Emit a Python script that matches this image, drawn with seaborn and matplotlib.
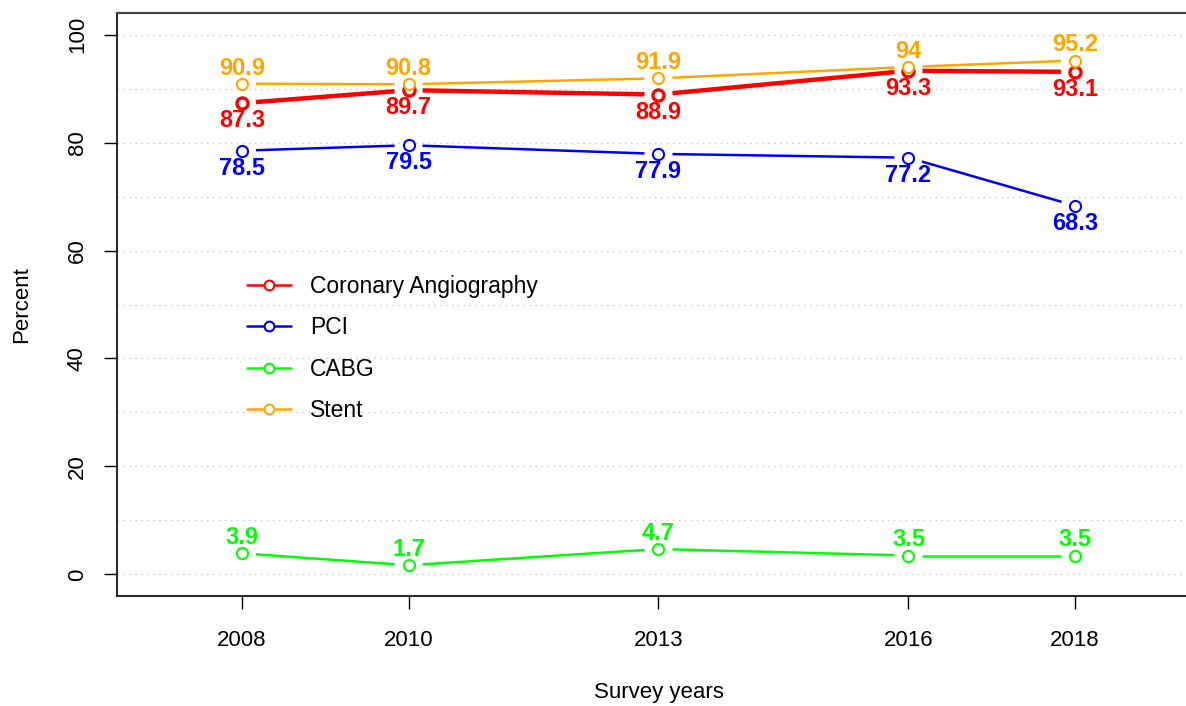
import matplotlib
matplotlib.use("Agg")
import matplotlib.pyplot as plt
from matplotlib.lines import Line2D
import numpy as np
import pandas as pd
import seaborn as sns

# Survey data (percent)
years = [2008, 2010, 2013, 2016, 2018]
angiography = [87.3, 89.7, 88.9, 93.3, 93.1]
pci = [78.5, 79.5, 77.9, 77.2, 68.3]
cabg = [3.9, 1.7, 4.7, 3.5, 3.5]
stent = [90.9, 90.8, 91.9, 94.0, 95.2]

series_names = ["Coronary Angiography", "PCI", "CABG", "Stent"]
series_values = [angiography, pci, cabg, stent]
colors = ["#FF0000", "#0000FF", "#00FF00", "#FFA500"]
label_below = [True, True, False, False]
line_widths = [3.2, 1.8, 1.8, 1.8]
edge_widths = [2.4, 1.5, 1.5, 1.5]

sns.set_style("ticks")
plt.rcParams["font.family"] = ["Liberation Sans", "DejaVu Sans"]
plt.rcParams["text.color"] = "black"
plt.rcParams["axes.labelcolor"] = "black"

df = pd.DataFrame({
    "year": years * len(series_names),
    "value": sum(series_values, []),
    "series": np.repeat(series_names, len(years)),
})

W, H = 1186, 706
fig = plt.figure(figsize=(W / 100, H / 100), dpi=100)
ax = fig.add_axes([117 / W, 1 - 596 / H, 1083 / W, 583 / H])
ax.set_xlim(2006.5, 2019.5)
ax.set_ylim(-4, 104)

# dotted horizontal grid every 10
ax.set_yticks(np.arange(0, 101, 10), minor=True)
ax.set_yticks(np.arange(0, 101, 20))
ax.set_xticks(years)
ax.yaxis.grid(True, which="both", color="#c8c8c8", linestyle=(0, (1, 3.3)), lw=1)
ax.set_axisbelow(True)

gap = 14  # pixels between point centre and line end (R type="b")
for name, color, lw, mew, below in zip(series_names, colors, line_widths, edge_widths, label_below):
    sub = df[df["series"] == name]
    pts = ax.transData.transform(np.column_stack([sub["year"], sub["value"]]))
    for p0, p1 in zip(pts[:-1], pts[1:]):
        d = p1 - p0
        L = np.hypot(*d)
        if L <= 2 * gap:
            continue
        u = d / L
        seg = ax.transData.inverted().transform(np.array([p0 + u * gap, p1 - u * gap]))
        ax.plot(seg[:, 0], seg[:, 1], color=color, lw=lw, solid_capstyle="butt")
    sns.lineplot(data=sub, x="year", y="value", color=color, marker="o", linestyle="none",
                 markersize=8, markerfacecolor="white", markeredgecolor=color,
                 markeredgewidth=mew, legend=False, ax=ax)
    for x, v in zip(sub["year"], sub["value"]):
        ax.annotate(f"{v:g}", (x, v), xytext=(0, -17.3 if below else 6.5),
                    textcoords="offset points", ha="center", va="baseline",
                    color=color, fontsize=17, fontweight="bold")

ax.tick_params(axis="both", which="major", length=9.4, width=1, direction="out",
               labelsize=16, color="black", labelcolor="black")
ax.tick_params(axis="x", pad=15)
ax.tick_params(axis="y", pad=11.5)
ax.tick_params(axis="y", which="minor", length=0)
plt.setp(ax.get_yticklabels(), rotation=90, va="center")

for side in ["left", "bottom"]:
    ax.spines[side].set_color("black")
    ax.spines[side].set_linewidth(1.2)
ax.spines["top"].set_color("#404040")
ax.spines["top"].set_linewidth(1.5)
ax.spines["right"].set_visible(False)

ax.set_xlabel("Survey years", fontsize=16)
ax.set_ylabel("Percent", fontsize=16)
ax.xaxis.set_label_coords(0.5, -0.148)
ax.yaxis.set_label_coords(-0.078, 0.5)

handles = [Line2D([0], [0], color=c, lw=1.8, marker="o", markersize=7,
                  markerfacecolor="white", markeredgecolor=c, markeredgewidth=1.5)
           for c in colors]
fig.legend(handles, series_names, loc="upper left", bbox_to_anchor=(247 / W, 1 - 275 / H),
           frameon=False, fontsize=16.5, handlelength=1.9, handletextpad=0.85,
           labelspacing=0.8, borderpad=0, borderaxespad=0)

fig.savefig("out.png", dpi=100)
